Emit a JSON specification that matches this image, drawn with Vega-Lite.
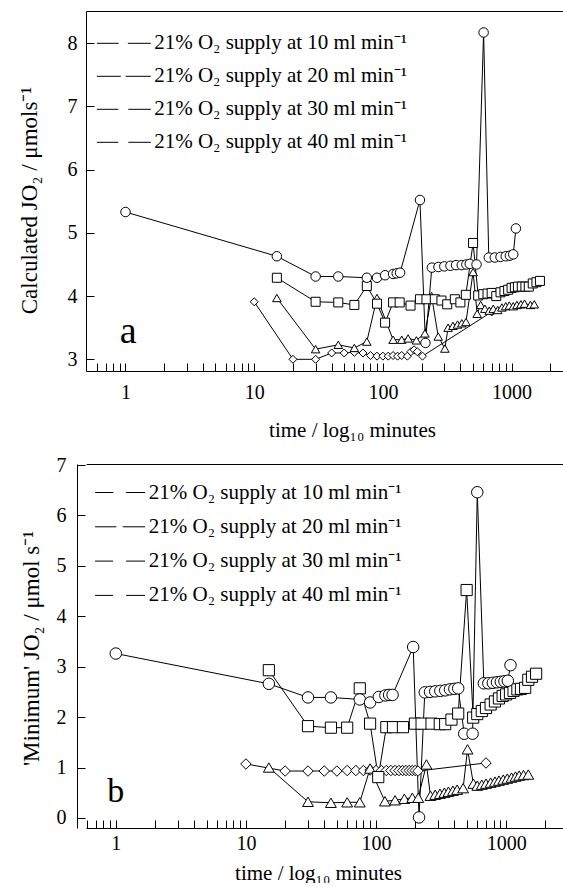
{
"$schema": "https://vega.github.io/schema/vega-lite/v6.json",
"padding": {"left": 18, "top": 11, "right": 0, "bottom": 0},
"background": "white",
"spacing": 15,
"resolve": {"scale": {"shape": "independent", "size": "independent", "color": "independent"}, "legend": {"shape": "independent", "size": "independent", "color": "independent"}},
"config": {
  "view": {"stroke": null},
  "font": "Liberation Serif",
  "axis": {"domainColor": "black", "tickColor": "black", "labelColor": "black", "titleColor": "black", "labelFont": "Liberation Serif", "titleFont": "Liberation Serif", "labelFontSize": 20, "titleFontSize": 21, "titleFontWeight": "normal", "grid": false, "labelOverlap": false, "labelFlush": false, "labelBound": false, "domainWidth": 1, "tickWidth": 1}
},
"datasets": {
"a": [
{"s":"10","t":10,"v":3.91},{"s":"10","t":20,"v":3.0},{"s":"10","t":30,"v":3.0},{"s":"10","t":40,"v":3.1},{"s":"10","t":50,"v":3.1},{"s":"10","t":60,"v":3.11},{"s":"10","t":70,"v":3.1},{"s":"10","t":80,"v":3.06},{"s":"10","t":90,"v":3.05},{"s":"10","t":100,"v":3.05},{"s":"10","t":110,"v":3.05},{"s":"10","t":120,"v":3.06},{"s":"10","t":130,"v":3.05},{"s":"10","t":140,"v":3.06},{"s":"10","t":155,"v":3.05},{"s":"10","t":165,"v":3.12},{"s":"10","t":175,"v":3.15},{"s":"10","t":185,"v":3.12},{"s":"10","t":203,"v":3.05},{"s":"10","t":700,"v":3.75},
{"s":"20","t":15,"v":3.97},{"s":"20","t":30,"v":3.16},{"s":"20","t":45,"v":3.23},{"s":"20","t":60,"v":3.18},{"s":"20","t":75,"v":3.28},{"s":"20","t":90,"v":3.97},{"s":"20","t":120,"v":3.31},{"s":"20","t":140,"v":3.31},{"s":"20","t":157,"v":3.33},{"s":"20","t":182,"v":3.3},{"s":"20","t":212,"v":3.41},{"s":"20","t":239,"v":4.0},{"s":"20","t":269,"v":3.36},{"s":"20","t":303,"v":3.17},{"s":"20","t":321,"v":3.5},{"s":"20","t":350,"v":3.53},{"s":"20","t":380,"v":3.55},{"s":"20","t":410,"v":3.57},{"s":"20","t":442,"v":3.59},{"s":"20","t":502,"v":4.38},{"s":"20","t":540,"v":3.72},{"s":"20","t":575,"v":3.86},{"s":"20","t":620,"v":3.8},{"s":"20","t":670,"v":3.77},{"s":"20","t":720,"v":3.8},{"s":"20","t":780,"v":3.78},{"s":"20","t":840,"v":3.82},{"s":"20","t":900,"v":3.84},{"s":"20","t":960,"v":3.85},{"s":"20","t":1030,"v":3.84},{"s":"20","t":1100,"v":3.86},{"s":"20","t":1180,"v":3.87},{"s":"20","t":1260,"v":3.88},{"s":"20","t":1400,"v":3.86},{"s":"20","t":1500,"v":3.87},
{"s":"30","t":15,"v":4.29},{"s":"30","t":30,"v":3.91},{"s":"30","t":45,"v":3.9},{"s":"30","t":60,"v":3.86},{"s":"30","t":75,"v":4.16},{"s":"30","t":90,"v":3.88},{"s":"30","t":104,"v":3.58},{"s":"30","t":120,"v":3.9},{"s":"30","t":135,"v":3.9},{"s":"30","t":164,"v":3.85},{"s":"30","t":194,"v":3.95},{"s":"30","t":218,"v":3.95},{"s":"30","t":253,"v":3.95},{"s":"30","t":285,"v":3.93},{"s":"30","t":316,"v":3.87},{"s":"30","t":362,"v":3.95},{"s":"30","t":400,"v":3.9},{"s":"30","t":441,"v":4.02},{"s":"30","t":502,"v":4.84},{"s":"30","t":550,"v":4.01},{"s":"30","t":602,"v":4.03},{"s":"30","t":650,"v":4.04},{"s":"30","t":700,"v":4.05},{"s":"30","t":760,"v":4.0},{"s":"30","t":820,"v":4.06},{"s":"30","t":880,"v":4.08},{"s":"30","t":940,"v":4.1},{"s":"30","t":1000,"v":4.13},{"s":"30","t":1060,"v":4.14},{"s":"30","t":1120,"v":4.15},{"s":"30","t":1200,"v":4.15},{"s":"30","t":1280,"v":4.15},{"s":"30","t":1360,"v":4.15},{"s":"30","t":1460,"v":4.2},{"s":"30","t":1560,"v":4.22},{"s":"30","t":1660,"v":4.24},
{"s":"40","t":1,"v":5.33},{"s":"40","t":15,"v":4.63},{"s":"40","t":30,"v":4.31},{"s":"40","t":45,"v":4.31},{"s":"40","t":75,"v":4.29},{"s":"40","t":90,"v":4.29},{"s":"40","t":104,"v":4.33},{"s":"40","t":120,"v":4.35},{"s":"40","t":128,"v":4.36},{"s":"40","t":136,"v":4.37},{"s":"40","t":194,"v":5.52},{"s":"40","t":214,"v":3.26},{"s":"40","t":240,"v":4.45},{"s":"40","t":270,"v":4.46},{"s":"40","t":300,"v":4.47},{"s":"40","t":335,"v":4.48},{"s":"40","t":370,"v":4.49},{"s":"40","t":410,"v":4.49},{"s":"40","t":445,"v":4.5},{"s":"40","t":473,"v":4.51},{"s":"40","t":534,"v":4.5},{"s":"40","t":606,"v":8.17},{"s":"40","t":665,"v":4.61},{"s":"40","t":740,"v":4.61},{"s":"40","t":820,"v":4.62},{"s":"40","t":900,"v":4.63},{"s":"40","t":970,"v":4.64},{"s":"40","t":1030,"v":4.66},{"s":"40","t":1080,"v":5.07}
],
"b": [
{"s":"10","t":10,"v":1.07},{"s":"10","t":20,"v":0.93},{"s":"10","t":30,"v":0.93},{"s":"10","t":40,"v":0.93},{"s":"10","t":50,"v":0.93},{"s":"10","t":60,"v":0.94},{"s":"10","t":70,"v":0.94},{"s":"10","t":80,"v":0.94},{"s":"10","t":90,"v":0.95},{"s":"10","t":100,"v":0.94},{"s":"10","t":110,"v":0.94},{"s":"10","t":120,"v":0.94},{"s":"10","t":130,"v":0.94},{"s":"10","t":140,"v":0.94},{"s":"10","t":150,"v":0.94},{"s":"10","t":160,"v":0.94},{"s":"10","t":170,"v":0.94},{"s":"10","t":180,"v":0.94},{"s":"10","t":190,"v":0.94},{"s":"10","t":200,"v":0.94},{"s":"10","t":210,"v":0.93},{"s":"10","t":700,"v":1.09},
{"s":"20","t":15,"v":1.0},{"s":"20","t":30,"v":0.32},{"s":"20","t":45,"v":0.3},{"s":"20","t":60,"v":0.31},{"s":"20","t":75,"v":0.31},{"s":"20","t":90,"v":0.98},{"s":"20","t":117,"v":0.33},{"s":"20","t":140,"v":0.35},{"s":"20","t":165,"v":0.38},{"s":"20","t":190,"v":0.4},{"s":"20","t":211,"v":0.4},{"s":"20","t":244,"v":1.06},{"s":"20","t":262,"v":0.44},{"s":"20","t":285,"v":0.46},{"s":"20","t":310,"v":0.48},{"s":"20","t":335,"v":0.5},{"s":"20","t":360,"v":0.52},{"s":"20","t":390,"v":0.54},{"s":"20","t":420,"v":0.56},{"s":"20","t":467,"v":0.59},{"s":"20","t":505,"v":1.36},{"s":"20","t":560,"v":0.68},{"s":"20","t":600,"v":0.64},{"s":"20","t":650,"v":0.66},{"s":"20","t":700,"v":0.68},{"s":"20","t":760,"v":0.7},{"s":"20","t":820,"v":0.72},{"s":"20","t":880,"v":0.74},{"s":"20","t":950,"v":0.76},{"s":"20","t":1020,"v":0.78},{"s":"20","t":1100,"v":0.8},{"s":"20","t":1180,"v":0.82},{"s":"20","t":1260,"v":0.84},{"s":"20","t":1360,"v":0.85},{"s":"20","t":1480,"v":0.86},
{"s":"30","t":15,"v":2.93},{"s":"30","t":30,"v":1.82},{"s":"30","t":45,"v":1.79},{"s":"30","t":60,"v":1.79},{"s":"30","t":75,"v":2.57},{"s":"30","t":90,"v":1.87},{"s":"30","t":104,"v":0.81},{"s":"30","t":120,"v":1.8},{"s":"30","t":135,"v":1.8},{"s":"30","t":161,"v":1.8},{"s":"30","t":199,"v":1.87},{"s":"30","t":224,"v":1.87},{"s":"30","t":267,"v":1.87},{"s":"30","t":309,"v":1.86},{"s":"30","t":340,"v":1.86},{"s":"30","t":380,"v":1.95},{"s":"30","t":428,"v":2.07},{"s":"30","t":497,"v":4.52},{"s":"30","t":558,"v":1.99},{"s":"30","t":600,"v":2.06},{"s":"30","t":650,"v":2.12},{"s":"30","t":700,"v":2.18},{"s":"30","t":760,"v":2.25},{"s":"30","t":820,"v":2.31},{"s":"30","t":880,"v":2.37},{"s":"30","t":940,"v":2.42},{"s":"30","t":1000,"v":2.45},{"s":"30","t":1070,"v":2.48},{"s":"30","t":1140,"v":2.52},{"s":"30","t":1220,"v":2.55},{"s":"30","t":1300,"v":2.56},{"s":"30","t":1400,"v":2.58},{"s":"30","t":1480,"v":2.74},{"s":"30","t":1580,"v":2.8},{"s":"30","t":1700,"v":2.86},
{"s":"40","t":1,"v":3.26},{"s":"40","t":15,"v":2.66},{"s":"40","t":30,"v":2.39},{"s":"40","t":45,"v":2.39},{"s":"40","t":75,"v":2.35},{"s":"40","t":90,"v":2.29},{"s":"40","t":105,"v":2.4},{"s":"40","t":118,"v":2.43},{"s":"40","t":126,"v":2.44},{"s":"40","t":134,"v":2.44},{"s":"40","t":193,"v":3.39},{"s":"40","t":214,"v":0.01},{"s":"40","t":237,"v":2.49},{"s":"40","t":260,"v":2.5},{"s":"40","t":285,"v":2.51},{"s":"40","t":312,"v":2.52},{"s":"40","t":340,"v":2.53},{"s":"40","t":370,"v":2.55},{"s":"40","t":400,"v":2.56},{"s":"40","t":428,"v":2.57},{"s":"40","t":476,"v":1.67},{"s":"40","t":552,"v":1.67},{"s":"40","t":600,"v":6.46},{"s":"40","t":674,"v":2.67},{"s":"40","t":730,"v":2.67},{"s":"40","t":790,"v":2.68},{"s":"40","t":850,"v":2.69},{"s":"40","t":910,"v":2.7},{"s":"40","t":970,"v":2.71},{"s":"40","t":1030,"v":2.72},{"s":"40","t":1080,"v":3.03}
]
},
"vconcat": [
{
  "width": 477, "height": 360,
  "data": {"name": "a"},
  "resolve": {"axis": {"x": "independent"}},
  "layer": [
    {
      "mark": {"type": "line", "strokeWidth": 1},
      "encoding": {
        "x": {"field": "t", "type": "quantitative", "scale": {"type": "log", "domain": [0.4933, 2508], "nice": false},
          "axis": {"orient": "bottom", "values": [0.6,0.7,0.8,0.9,1,2,3,4,5,6,7,8,9,10,20,30,40,50,60,70,80,90,100,200,300,400,500,600,700,800,900,1000,2000],
            "labelExpr": "indexof([1,10,100,1000], datum.value) >= 0 ? toString(datum.value) : ''",
            "tickSize": -8, "labelPadding": 19, "title": "time / log₁₀ minutes", "titleX": 266, "titleY": 48,
            "encode": {"ticks": {"y2": {"value": {"expr": "indexof([1,10,100,1000], datum.value) >= 0 ? -8 : -4"}}}}}},
        "y": {"field": "v", "type": "quantitative", "scale": {"domain": [2.815, 8.51], "nice": false, "zero": false},
          "axis": {"orient": "left", "values": [3,3.5,4,4.5,5,5.5,6,6.5,7,7.5,8,8.5],
            "labelExpr": "datum.value % 1 == 0 ? toString(datum.value) : ''",
            "tickSize": -8, "labelPadding": 17, "title": "Calculated JO₂ / μmols⁻¹", "titleFontSize": 23, "titleX": -45, "titleY": 189,
            "encode": {"ticks": {"x2": {"value": {"expr": "datum.value % 1 == 0 ? 8 : 4"}}}}}},
        "color": {"field": "s", "type": "nominal", "scale": {"domain": ["20","10","40","30"], "range": ["black","black","black","black"]},
          "legend": {"orient": "none", "legendX": 10.3, "legendY": 21.8, "title": null, "padding": 0,
            "symbolType": "stroke", "symbolSize": 2916, "symbolStrokeWidth": 1, "symbolStrokeColor": "black", "clipHeight": 21,
            "labelFontSize": 21, "rowPadding": 11, "labelExpr": "''"}}
      }
    },
    {
      "mark": {"type": "point", "filled": false, "fill": "white", "stroke": "black", "strokeWidth": 1, "opacity": 1},
      "encoding": {
        "x": {"field": "t", "type": "quantitative", "axis": null},
        "y": {"field": "v", "type": "quantitative"},
        "shape": {"field": "s", "type": "nominal", "scale": {"domain": ["10","20","30","40"], "range": ["diamond","triangle-up","square","circle"]},
          "legend": {"orient": "none", "legendX": 26.8, "legendY": 21.8, "title": null, "padding": 0,
            "labelFont": "Liberation Serif", "labelFontSize": 21, "labelColor": "black", "labelLimit": 400,
            "labelOffset": 20.4, "rowPadding": 11, "symbolSize": 100, "symbolFillColor": "white", "symbolStrokeColor": "black", "symbolStrokeWidth": 1, "symbolOpacity": 1,
            "labelExpr": "'21% O₂ supply at ' + datum.label + ' ml min⁻¹'",
            "encode": {"symbols": {"stroke": {"value": "black"}, "strokeWidth": {"value": 1}, "fill": {"value": "white"}}}}},
        "size": {"field": "s", "type": "ordinal", "scale": {"domain": ["40","30","20","10"], "range": [90,64,121,121]}, "legend": null}
      }
    },
    {
      "data": {"values": [{}]},
      "mark": {"type": "text", "text": "a", "fontSize": 38, "font": "Liberation Serif", "align": "center", "baseline": "alphabetic", "color": "black"},
      "encoding": {
        "x": {"datum": 1.05, "type": "quantitative", "axis": {"orient": "top", "ticks": false, "labels": false, "title": null, "domain": true}},
        "y": {"datum": 3.26, "type": "quantitative"}
      }
    }
  ]
},
{
  "width": 477, "height": 364,
  "data": {"name": "b"},
  "resolve": {"axis": {"x": "independent"}},
  "layer": [
    {
      "mark": {"type": "line", "strokeWidth": 1},
      "encoding": {
        "x": {"field": "t", "type": "quantitative", "scale": {"type": "log", "domain": [0.59, 2735], "nice": false},
          "axis": {"orient": "bottom", "values": [0.6,0.7,0.8,0.9,1,2,3,4,5,6,7,8,9,10,20,30,40,50,60,70,80,90,100,200,300,400,500,600,700,800,900,1000,2000],
            "labelExpr": "indexof([1,10,100,1000], datum.value) >= 0 ? toString(datum.value) : ''",
            "tickSize": -8, "labelPadding": 13, "title": "time / log₁₀ minutes", "titleX": 232, "titleY": 34,
            "encode": {"ticks": {"y2": {"value": {"expr": "indexof([1,10,100,1000], datum.value) >= 0 ? -8 : -4"}}}, "domain": {"x": {"value": -9}}}}},
        "y": {"field": "v", "type": "quantitative", "scale": {"domain": [-0.2, 7.02], "nice": false, "zero": false},
          "axis": {"orient": "left", "offset": 9, "values": [0,0.5,1,1.5,2,2.5,3,3.5,4,4.5,5,5.5,6,6.5,7],
            "labelExpr": "datum.value % 1 == 0 ? toString(datum.value) : ''",
            "tickSize": -8, "labelPadding": 19, "title": "'Minimum' JO₂  /  μmol s⁻¹", "titleFontSize": 23, "titleX": -34, "titleY": 184,
            "encode": {"ticks": {"x2": {"value": {"expr": "datum.value % 1 == 0 ? 8 : 4"}}}}}},
        "color": {"field": "s", "type": "nominal", "scale": {"domain": ["20","10","40","30"], "range": ["black","black","black","black"]},
          "legend": {"orient": "none", "legendX": 8.6, "legendY": 18, "title": null, "padding": 0,
            "symbolType": "stroke", "symbolSize": 2500, "symbolStrokeWidth": 1, "symbolStrokeColor": "black", "clipHeight": 21,
            "labelFontSize": 21, "rowPadding": 12.3, "labelExpr": "''"}}
      }
    },
    {
      "mark": {"type": "point", "filled": false, "fill": "white", "stroke": "black", "strokeWidth": 1, "opacity": 1},
      "encoding": {
        "x": {"field": "t", "type": "quantitative", "axis": null},
        "y": {"field": "v", "type": "quantitative"},
        "shape": {"field": "s", "type": "nominal", "scale": {"domain": ["10","20","30","40"], "range": ["diamond","triangle-up","square","circle"]},
          "legend": {"orient": "none", "legendX": 23.1, "legendY": 18, "title": null, "padding": 0,
            "labelFont": "Liberation Serif", "labelFontSize": 21, "labelColor": "black", "labelLimit": 400,
            "labelOffset": 18.7, "rowPadding": 12.3, "symbolSize": 170, "symbolFillColor": "white", "symbolStrokeColor": "black", "symbolStrokeWidth": 1, "symbolOpacity": 1,
            "labelExpr": "'21% O₂ supply at ' + datum.label + ' ml min⁻¹'",
            "encode": {"symbols": {"stroke": {"value": "black"}, "strokeWidth": {"value": 1}, "fill": {"value": "white"}}}}},
        "size": {"field": "s", "type": "ordinal", "scale": {"domain": ["40","30","20","10"], "range": [132,110,156,169]}, "legend": null}
      }
    },
    {
      "data": {"values": [{}]},
      "mark": {"type": "text", "text": "b", "fontSize": 34, "font": "Liberation Serif", "align": "center", "baseline": "alphabetic", "color": "black"},
      "encoding": {
        "x": {"datum": 1.0, "type": "quantitative", "axis": {"orient": "top", "ticks": false, "labels": false, "title": null, "domain": true, "encode": {"domain": {"x": {"value": -9}}}}},
        "y": {"datum": 0.32, "type": "quantitative"}
      }
    }
  ]
}
]
}
